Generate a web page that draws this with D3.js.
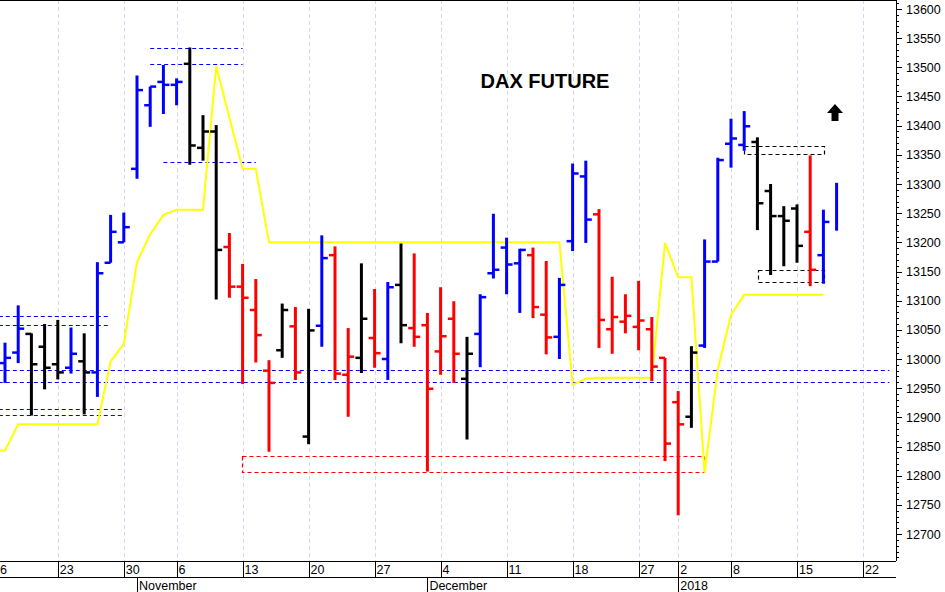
<!DOCTYPE html>
<html>
<head>
<meta charset="utf-8">
<script src="https://cdn.jsdelivr.net/npm/d3@7"></script>
<style>
  body { margin: 0; background: #fff; }
  svg { display: block; font-family: Arial, "Liberation Sans", sans-serif; }
</style>
</head>
<body>
<div class="chart"></div>
<script>
// Trading days shown on the x axis (Oct 16 2017 is cut at the left edge, Jan 19-24 are empty).
const days = [
  "2017-10-16", "2017-10-17", "2017-10-18", "2017-10-19", "2017-10-20",
  "2017-10-23", "2017-10-24", "2017-10-25", "2017-10-26", "2017-10-27",
  "2017-10-30", "2017-11-01", "2017-11-02", "2017-11-03",
  "2017-11-06", "2017-11-07", "2017-11-08", "2017-11-09", "2017-11-10",
  "2017-11-13", "2017-11-14", "2017-11-15", "2017-11-16", "2017-11-17",
  "2017-11-20", "2017-11-21", "2017-11-22", "2017-11-23", "2017-11-24",
  "2017-11-27", "2017-11-28", "2017-11-29", "2017-11-30", "2017-12-01",
  "2017-12-04", "2017-12-05", "2017-12-06", "2017-12-07", "2017-12-08",
  "2017-12-11", "2017-12-12", "2017-12-13", "2017-12-14", "2017-12-15",
  "2017-12-18", "2017-12-19", "2017-12-20", "2017-12-21", "2017-12-22",
  "2017-12-27", "2017-12-28", "2017-12-29",
  "2018-01-02", "2018-01-03", "2018-01-04", "2018-01-05",
  "2018-01-08", "2018-01-09", "2018-01-10", "2018-01-11", "2018-01-12",
  "2018-01-15", "2018-01-16", "2018-01-17", "2018-01-18",
  "2018-01-19", "2018-01-22", "2018-01-23", "2018-01-24"
];

// OHLC bars, one per trading day starting Oct 17 (b = blue, r = red, k = black).
const barDays = days.slice(1, 65);
const opens = [12993, 13011, 13043, 13021, 12991, 12985, 12996, 12977, 13165, 13200,
  13326, 13435, 13475, 13470, 13506, 13362, 13390, 13192, 13124, 13084,
  12980, 13015, 13056, 12867, 13057, 13178, 12973, 13002, 13036, 13000,
  13127, 13053, 13058, 13013, 13069, 12966, 13043, 13147, 13191, 13164,
  13178, 13076, 13038, 13202, 13313, 13248, 13051, 13064, 13055, 13051,
  13002, 12926, 12901, 13023, 13167, 13369, 13367, 13372, 13288, 13245,
  13258, 13218, 13178, null];
const highs = [13028, 13092, 13044, 13060, 13067, 13054, 13044, 13166, 13247, 13251,
  13486, 13467, 13504, 13481, 13534, 13418, 13401, 13216, 13163, 13137,
  12998, 13095, 13089, 13086, 13212, 13193, 13053, 13164, 13120, 13132,
  13198, 13181, 13079, 13123, 13099, 13038, 13111, 13249, 13208, 13189,
  13191, 13168, 13139, 13335, 13340, 13257, 13141, 13111, 13134, 13072,
  13002, 12945, 13022, 13205, 13345, 13412, 13425, 13380, 13300, 13262,
  13265, 13349, 13256, 13302];
const lows = [12959, 12993, 12903, 12948, 12965, 12975, 12905, 12935, 13165, 13200,
  13309, 13398, 13420, 13435, 13333, 13340, 13102, 13105, 12957, 12994,
  12841, 13002, 12964, 12854, 13021, 12964, 12901, 12976, 12985, 12964,
  13027, 13021, 12807, 12973, 12959, 12862, 12986, 13138, 13111, 13079,
  13070, 13008, 13000, 13185, 13199, 13019, 13009, 13044, 13015, 12962,
  12825, 12732, 12882, 13019, 13167, 13328, 13357, 13221, 13144, 13159,
  13165, 13125, 13129, 13220];
const closes = [13002, 13052, 12991, 12985, 12977, 13009, 12977, 13147, 13218, 13226,
  13461, 13467, 13470, 13475, 13366, 13390, 13187, 13124, 13105, 13041,
  12959, 13084, 12977, 13049, 13173, 12975, 13004, 13069, 13010, 13123,
  13058, 13038, 12949, 13039, 13009, 13009, 13106, 13153, 13162, 13187,
  13089, 13037, 13127, 13318, 13239, 13067, 13072, 13074, 13066, 12987,
  12855, 12888, 13011, 13167, 13341, 13378, 13399, 13267, 13245, 13237,
  13194, 13153, 13235, null];
const barColors = "bbkkkbkbbbbbbbkkkrrrrkrkbrrkrbkrrrrkbbbbrrbbbrrrrrrrkbbbbkkkkrbb";

// Yellow line, Oct 16 to Jan 17.
const stopDays = days.slice(0, 64);
const stopValues = [12843, 12843, 12888, 12888, 12888, 12888, 12888, 12888, 12888, 12996,
  13026, 13166, 13214, 13247, 13256, 13256, 13256, 13502, 13414, 13326,
  13326, 13200, 13200, 13200, 13200, 13200, 13200, 13200, 13200, 13200,
  13200, 13200, 13200, 13200, 13200, 13200, 13200, 13200, 13200, 13200,
  13200, 13200, 13200, 13200, 12956, 12966, 12968, 12968, 12968, 12968,
  12968, 13199, 13140, 13140, 12805, 12982, 13076, 13110, 13110, 13110,
  13110, 13110, 13110, 13110];

// Dashed blue levels: [value, from day, to day]
const levels = [
  [13533, "2017-11-02", "2017-11-13"],
  [13505, "2017-11-02", "2017-11-13"],
  [13338, "2017-11-03", "2017-11-14"],
  [13073, "2017-10-16", "2017-10-27"],
  [13059, "2017-10-16", "2017-10-27"],
  [12915, "2017-10-16", "2017-10-30"],
  [12904, "2017-10-16", "2017-10-30"],
  [12981, "2017-10-16", "2018-01-24"],
  [12961, "2017-10-16", "2018-01-24"]
];
// Dashed boxes: [top, bottom, from day, to day]
const redBoxes = [[12832, 12808, "2017-11-13", "2018-01-04"]];
const blackBoxes = [
  [13366, 13350, "2018-01-09", "2018-01-17"],
  [13151, 13131, "2018-01-10", "2018-01-17"]
];

const weekTicks = ["2017-10-16", "2017-10-23", "2017-10-30", "2017-11-06", "2017-11-13",
  "2017-11-20", "2017-11-27", "2017-12-04", "2017-12-11", "2017-12-18", "2017-12-27",
  "2018-01-02", "2018-01-08", "2018-01-15", "2018-01-22"];
const monthTicks = [["2017-11-01", "November"], ["2017-12-01", "December"], ["2018-01-02", "2018"]];
const priceTicks = d3.range(12700, 13601, 50);

const WIDTH = 945, HEIGHT = 592;
const PLOT_RIGHT = 896, AXIS_Y = 561, MONTH_Y = 577;

const x = d3.scalePoint().domain(days).range([-8.2, 889.4]);
const y = d3.scaleLinear().domain([12700, 13600]).range([534, 9]);
const colorOf = { b: "#0000ff", r: "#ff0000", k: "#000000" };
const px = (v) => Math.round(v) + 0.5;

const svg = d3.select(".chart").append("svg")
  .attr("width", WIDTH).attr("height", HEIGHT);

svg.append("clipPath").attr("id", "clip")
  .append("rect").attr("width", PLOT_RIGHT).attr("height", AXIS_Y);
const content = svg.append("g").attr("clip-path", "url(#clip)");

// Vertical grid at week starts.
content.selectAll("line.grid").data(weekTicks).join("line")
  .classed("grid", true)
  .attr("x1", (d) => px(x(d))).attr("x2", (d) => px(x(d)))
  .attr("y1", 0).attr("y2", AXIS_Y)
  .attr("stroke", "#d6d6ee").attr("stroke-dasharray", "4,3");

// Dashed levels.
content.selectAll("line.level").data(levels).join("line")
  .classed("level", true)
  .attr("x1", (d) => x(d[1])).attr("x2", (d) => x(d[2]))
  .attr("y1", (d) => px(y(d[0]))).attr("y2", (d) => px(y(d[0])))
  .attr("stroke", "#0000ff").attr("stroke-dasharray", "4,3");

// Dashed boxes (snapped to even pixel rows so thin red lines keep their colour).
const even = (v) => Math.round(v / 2) * 2 + 0.5;
function drawBoxes(cls, data, color) {
  content.selectAll("rect." + cls).data(data).join("rect")
    .classed(cls, true)
    .attr("x", (d) => even(x(d[2]))).attr("width", (d) => even(x(d[3])) - even(x(d[2])))
    .attr("y", (d) => even(y(d[0]))).attr("height", (d) => even(y(d[1])) - even(y(d[0])))
    .attr("fill", "none").attr("stroke", color).attr("stroke-width", 1.2)
    .attr("stroke-dasharray", "4,3");
}
drawBoxes("red-box", redBoxes, "#ff0000");
drawBoxes("black-box", blackBoxes, "#000000");

// Yellow line.
content.append("path")
  .datum(stopDays.map((d, i) => [d, stopValues[i]]))
  .attr("fill", "none").attr("stroke", "#ffff00").attr("stroke-width", 2)
  .attr("d", d3.line().x((d) => x(d[0])).y((d) => y(d[1])));

// OHLC bars.
const bars = barDays.map((d, i) => ({
  day: d, open: opens[i], high: highs[i], low: lows[i], close: closes[i],
  color: colorOf[barColors[i]],
}));
const bar = content.selectAll("g.bar").data(bars).join("g")
  .classed("bar", true)
  .attr("stroke", (d) => d.color)
  .attr("stroke-width", 3);
bar.append("line")
  .attr("x1", (d) => x(d.day)).attr("x2", (d) => x(d.day))
  .attr("y1", (d) => y(d.high)).attr("y2", (d) => y(d.low));
bar.filter((d) => d.open != null).append("line")
  .attr("stroke-width", 2.5)
  .attr("x1", (d) => x(d.day) - 6).attr("x2", (d) => x(d.day))
  .attr("y1", (d) => y(d.open)).attr("y2", (d) => y(d.open));
bar.filter((d) => d.close != null).append("line")
  .attr("stroke-width", 2.5)
  .attr("x1", (d) => x(d.day)).attr("x2", (d) => x(d.day) + 6)
  .attr("y1", (d) => y(d.close)).attr("y2", (d) => y(d.close));

// Title and arrow.
svg.append("text").attr("x", 545).attr("y", 88).attr("text-anchor", "middle")
  .attr("font-size", 20).attr("font-weight", "bold").text("DAX FUTURE");
svg.append("path")
  .attr("d", "M835,104 L843,113 L838.5,113 L838.5,121 L831.5,121 L831.5,113 L827,113 Z")
  .attr("fill", "#000");

// Right value axis.
const yAxis = svg.append("g").attr("transform", `translate(${PLOT_RIGHT},0)`);
yAxis.append("line").attr("x1", 0.5).attr("x2", 0.5).attr("y1", 0).attr("y2", AXIS_Y).attr("stroke", "#000");
yAxis.selectAll("line.minor").data(d3.range(12660, 13611, 10)).join("line")
  .classed("minor", true)
  .attr("x1", 0).attr("x2", (d) => (d % 50 === 0 ? 6 : 3))
  .attr("y1", (d) => px(y(d))).attr("y2", (d) => px(y(d)))
  .attr("stroke", "#000");
yAxis.selectAll("text").data(priceTicks).join("text")
  .attr("x", 10).attr("y", (d) => y(d) + 4.5)
  .attr("font-size", 12.5).text((d) => d);

// Bottom date axis.
const xAxis = svg.append("g");
xAxis.append("line").attr("x1", 0).attr("x2", PLOT_RIGHT)
  .attr("y1", AXIS_Y + 0.5).attr("y2", AXIS_Y + 0.5).attr("stroke", "#000");
xAxis.append("line").attr("x1", 0).attr("x2", PLOT_RIGHT)
  .attr("y1", MONTH_Y + 0.5).attr("y2", MONTH_Y + 0.5).attr("stroke", "#000");
xAxis.selectAll("line.week").data(weekTicks).join("line")
  .classed("week", true)
  .attr("x1", (d) => px(x(d))).attr("x2", (d) => px(x(d)))
  .attr("y1", AXIS_Y).attr("y2", MONTH_Y).attr("stroke", "#000");
xAxis.selectAll("text.week").data(weekTicks).join("text")
  .classed("week", true)
  .attr("x", (d) => Math.max(x(d) + 2, 0)).attr("y", AXIS_Y + 13)
  .attr("font-size", 12.5).text((d, i) => (i === 0 ? "6" : +d.slice(8)));
xAxis.selectAll("line.month").data(monthTicks).join("line")
  .classed("month", true)
  .attr("x1", (d) => px(x(d[0]))).attr("x2", (d) => px(x(d[0])))
  .attr("y1", MONTH_Y).attr("y2", HEIGHT).attr("stroke", "#000");
xAxis.selectAll("text.month").data(monthTicks).join("text")
  .classed("month", true)
  .attr("x", (d) => x(d[0]) + 2).attr("y", MONTH_Y + 13)
  .attr("font-size", 12.5).text((d) => d[1]);

// Top border.
svg.append("line").attr("x1", 0).attr("x2", PLOT_RIGHT)
  .attr("y1", 0.5).attr("y2", 0.5).attr("stroke", "#000");
</script>
</body>
</html>
